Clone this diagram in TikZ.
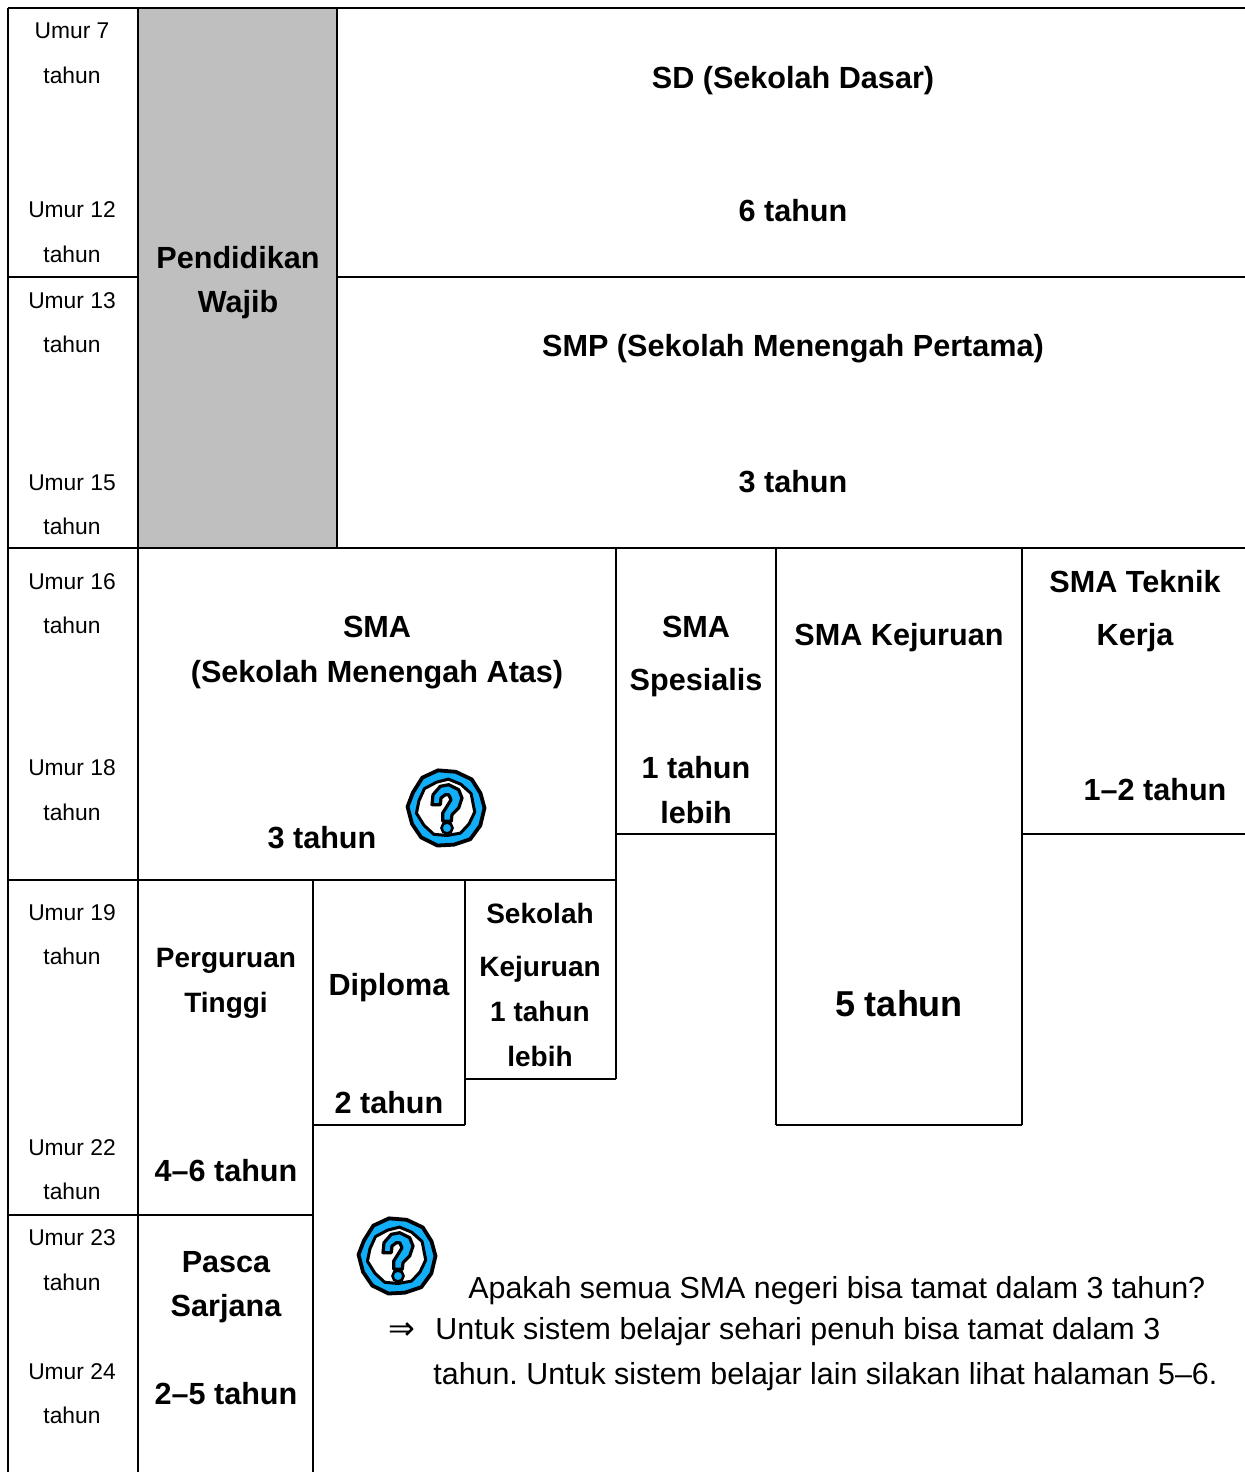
\documentclass[tikz,border=0pt]{standalone}
\usepackage{fontspec}
\setmainfont{Liberation Sans}
\newfontfamily\panahfont{DejaVu Sans}
\frenchspacing
\usepackage{tikz}
\definecolor{birutanya}{HTML}{12AEF8}

\tikzset{
	umur/.style={font=\fontsize{11.4}{12}\selectfont,inner sep=0pt,text height=8.3pt,text depth=1pt},
	judul/.style={font=\fontsize{15.3}{15}\selectfont\bfseries,inner sep=0pt,text height=11pt,text depth=1pt},
	judulkecil/.style={judul,font=\fontsize{14}{14}\selectfont\bfseries,text height=10pt},
	judulbesar/.style={judul,font=\fontsize{18}{18}\selectfont\bfseries,text height=13pt},
	catatan/.style={font=\fontsize{15.2}{15}\selectfont,inner sep=0pt,anchor=base west},
	garis/.style={black,line width=1pt},
	pics/tanya/.style={code={
		\draw[black,line width=1.9pt,fill=birutanya,line join=round] (0:38.5) -- (27:38.5) -- (52:39.5) -- (78:37.5) -- (103:38.5) -- (130:38.5) -- (155:37.5) -- (182:38.5) -- (205:36.5) -- (232:38.5) -- (258:38.5) -- (285:37.5) -- (312:38.5) -- (337:37.5) -- cycle;
		\draw[black,line width=1.5pt,fill=white,line join=round] (8:29) -- (35:28) -- (60:29) -- (88:27.5) -- (115:29) -- (142:28) -- (170:30) -- (195:28) -- (222:29) -- (250:27.5) -- (275:29) -- (302:28) -- (330:29) -- cycle;
		\draw[black,line width=1.6pt,fill=birutanya,line join=round] (-14,-3.3) -- (-13,-13.3) -- (-5.7,-21.7) -- (2.7,-23.3) -- (12.7,-18.3) -- (16,-10) -- (12.7,0) -- (6,6.7) -- (5.3,13.3) -- (-3.3,13.3) -- (-3.3,5) -- (1,-1.7) -- (5,-8.3) -- (2.7,-13.3) -- (-0.7,-13.3) -- (-5,-10) -- (-5.7,-3.3) -- cycle;
		\draw[black,line width=1.3pt,fill=birutanya] (1,20) circle (5.5);
	}}
}

\begin{document}
\begin{tikzpicture}[x=0.5pt,y=-0.5pt]
	\useasboundingbox (0,0) rectangle (1245,1472);

	\fill[gray!50] (138,8) rectangle (337,548);

	% garis tabel
	\draw[garis] (8,8) -- (1245,8);
	\draw[garis] (8,8) -- (8,1472);
	\draw[garis] (138,8) -- (138,1472);
	\draw[garis] (337,8) -- (337,548);
	\draw[garis] (8,277) -- (138,277);
	\draw[garis] (337,277) -- (1245,277);
	\draw[garis] (8,548) -- (1245,548);
	\draw[garis] (8,880) -- (616,880);
	\draw[garis] (616,548) -- (616,1079);
	\draw[garis] (776,548) -- (776,1125);
	\draw[garis] (1022,548) -- (1022,1125);
	\draw[garis] (616,834) -- (776,834);
	\draw[garis] (1022,834) -- (1245,834);
	\draw[garis] (776,1125) -- (1022,1125);
	\draw[garis] (313,880) -- (313,1472);
	\draw[garis] (465,880) -- (465,1125);
	\draw[garis] (465,1079) -- (616,1079);
	\draw[garis] (313,1125) -- (465,1125);
	\draw[garis] (8,1215) -- (313,1215);

	% umur
	\foreach \nama/\y/\teks in {a/31/Umur 7,b/76/tahun,c/210/Umur 12,d/255/tahun,e/301/Umur 13,f/345/tahun,g/483/Umur 15,h/527/tahun,i/582/Umur 16,j/626/tahun,k/768/Umur 18,l/813/tahun,m/913/Umur 19,n/957/tahun,o/1148/Umur 22,p/1192/tahun,q/1238/Umur 23,r/1283/tahun,s/1372/Umur 24,t/1416/tahun}
		\node[umur] (umur\nama) at (72,\y) {\teks};

	\node[judul] (wajib1) at (238,258) {Pendidikan};
	\node[judul] (wajib2) at (238,302) {Wajib};
	\node[judul] (sd1) at (793,78) {SD (Sekolah Dasar)};
	\node[judul] (sd2) at (793,211) {6 tahun};
	\node[judul] (smp1) at (793,346) {SMP (Sekolah Menengah Pertama)};
	\node[judul] (smp2) at (793,482) {3 tahun};
	\node[judul] (sma1) at (377,627) {SMA};
	\node[judul] (sma2) at (377,672) {(Sekolah Menengah Atas)};
	\node[judul] (sma3) at (322,838) {3 tahun};
	\node[judul] (spes1) at (696,627) {SMA};
	\node[judul] (spes2) at (696,680) {Spesialis};
	\node[judul] (spes3) at (696,768) {1 tahun};
	\node[judul] (spes4) at (696,813) {lebih};
	\node[judul] (kej1) at (899,635) {SMA Kejuruan};
	\node[judulbesar] (kej2) at (899,1004) {5 tahun};
	\node[judul] (tek1) at (1135,582) {SMA Teknik};
	\node[judul] (tek2) at (1135,635) {Kerja};
	\node[judul] (tek3) at (1155,790) {1--2 tahun};
	\node[judulkecil] (pt1) at (226,958) {Perguruan};
	\node[judulkecil] (pt2) at (226,1003) {Tinggi};
	\node[judul] (pt3) at (226,1171) {4--6 tahun};
	\node[judul] (dip1) at (389,985) {Diploma};
	\node[judul] (dip2) at (389,1103) {2 tahun};
	\node[judulkecil] (sk1) at (540,914) {Sekolah};
	\node[judulkecil] (sk2) at (540,967) {Kejuruan};
	\node[judulkecil] (sk3) at (540,1012) {1 tahun};
	\node[judulkecil] (sk4) at (540,1057) {lebih};
	\node[judul] (ps1) at (226,1262) {Pasca};
	\node[judul] (ps2) at (226,1306) {Sarjana};
	\node[judul] (ps3) at (226,1394) {2--5 tahun};

	\pic at (446,808) {tanya};
	\pic at (397,1256) {tanya};

	\node[catatan] (tanya1) at (468,1298) {Apakah semua SMA negeri bisa tamat dalam 3 tahun?};
	\node[catatan,font=\fontsize{16}{16}\panahfont] (panah) at (388,1339) {⇒};
	\node[catatan] (jawab1) at (435,1339) {Untuk sistem belajar sehari penuh bisa tamat dalam 3};
	\node[catatan] (jawab2) at (433,1384) {tahun. Untuk sistem belajar lain silakan lihat halaman 5--6.};
\end{tikzpicture}
\end{document}
